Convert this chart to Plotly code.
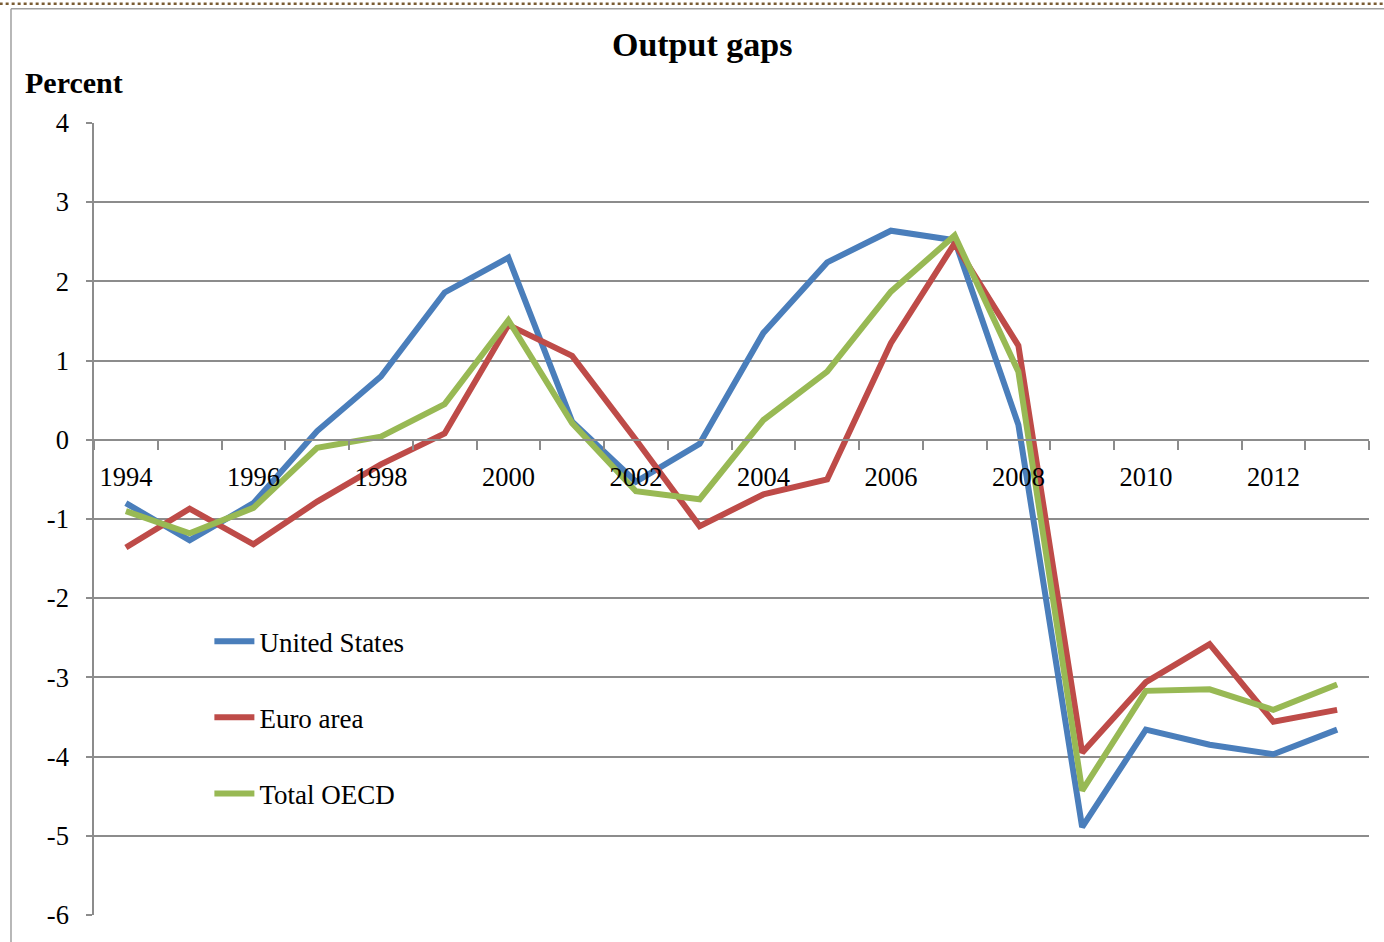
import plotly.graph_objects as go

years = list(range(1994, 2014))

united_states = [-0.80, -1.27, -0.80, 0.11, 0.80, 1.86, 2.30, 0.23, -0.53, -0.05,
                 1.35, 2.24, 2.64, 2.52, 0.19, -4.89, -3.66, -3.85, -3.97, -3.66]
euro_area = [-1.36, -0.87, -1.32, -0.78, -0.31, 0.08, 1.45, 1.06, 0.00, -1.09,
             -0.69, -0.50, 1.22, 2.48, 1.19, -3.95, -3.06, -2.58, -3.56, -3.41]
total_oecd = [-0.90, -1.18, -0.86, -0.10, 0.04, 0.45, 1.51, 0.21, -0.65, -0.75,
              0.25, 0.86, 1.87, 2.58, 0.86, -4.43, -3.17, -3.15, -3.41, -3.09]

series = [
    ("United States", united_states, "#4a7ebb"),
    ("Euro area", euro_area, "#be4b48"),
    ("Total OECD", total_oecd, "#98b954"),
]

label_years = list(range(1994, 2013, 2))
boundaries = [y - 0.5 for y in range(1994, 2015)]
y_ticks = list(range(-6, 5))
y_labels = [str(v) for v in y_ticks]  # plain hyphen for negatives

FONT = "Liberation Serif, Times New Roman, serif"
GRID = "#8c8c8c"

fig = go.Figure()
for i, (name, vals, color) in enumerate(series):
    fig.add_trace(go.Scatter(
        x=years, y=vals, name=name, mode="lines",
        line=dict(color=color, width=6),
        legendgroup=f"g{i}",
    ))

fig.update_layout(
    width=1384, height=942,
    margin=dict(l=94, r=15, t=123, b=22),
    paper_bgcolor="white", plot_bgcolor="white",
    font=dict(family=FONT, size=26, color="black"),
    title=dict(text="<b>Output gaps</b>", x=0.477, xanchor="center",
               xref="paper", y=0.953, yanchor="middle",
               font=dict(family=FONT, size=34, color="black")),
    showlegend=True,
    legend=dict(x=0.0905, y=0.376, xanchor="left", yanchor="top",
                bgcolor="rgba(0,0,0,0)", tracegroupgap=38,
                font=dict(family=FONT, size=27, color="black"),
                itemwidth=40),
    xaxis=dict(
        range=[1993.5, 2013.5], tickmode="array", tickvals=label_years,
        ticktext=[str(y) for y in label_years],
        ticks="", showgrid=False, zeroline=False,
        showline=True, linecolor=GRID, linewidth=1.5,
        anchor="free", position=0.6, ticklabelstandoff=14,
        minor=dict(tickmode="array", tickvals=boundaries, ticks="outside",
                   ticklen=9, tickcolor=GRID, tickwidth=1.5, showgrid=False),
        tickfont=dict(family=FONT, size=26.5, color="black"),
    ),
    yaxis=dict(
        range=[-6, 4], tickmode="array", tickvals=y_ticks, ticktext=y_labels,
        ticks="outside", ticklen=6, tickcolor=GRID, tickwidth=1.5,
        showgrid=True, gridcolor=GRID, gridwidth=1.5, zeroline=False,
        showline=True, linecolor=GRID, linewidth=1.5,
        ticklabelstandoff=12,
        tickfont=dict(family=FONT, size=26.5, color="black"),
    ),
)

fig.add_annotation(text="<b>Percent</b>", xref="paper", yref="paper",
                   x=-0.056, y=1.0507, xanchor="left", yanchor="middle",
                   showarrow=False, font=dict(family=FONT, size=30, color="black"))

# outer chart frame
fig.add_shape(type="line", xref="paper", yref="paper",
              x0=-0.0651, x1=1.02, y0=1.1443, y1=1.1443,
              line=dict(color="#a0a0a0", width=1.5))
fig.add_shape(type="line", xref="paper", yref="paper",
              x0=-0.0651, x1=-0.0651, y0=-0.04, y1=1.1443,
              line=dict(color="#a0a0a0", width=1.5))
fig.add_shape(type="line", xref="paper", yref="paper",
              x0=-0.074, x1=1.02, y0=1.1506, y1=1.1506,
              line=dict(color="#7a5c34", width=2.5, dash="dot"))

fig.write_html("out.html")
